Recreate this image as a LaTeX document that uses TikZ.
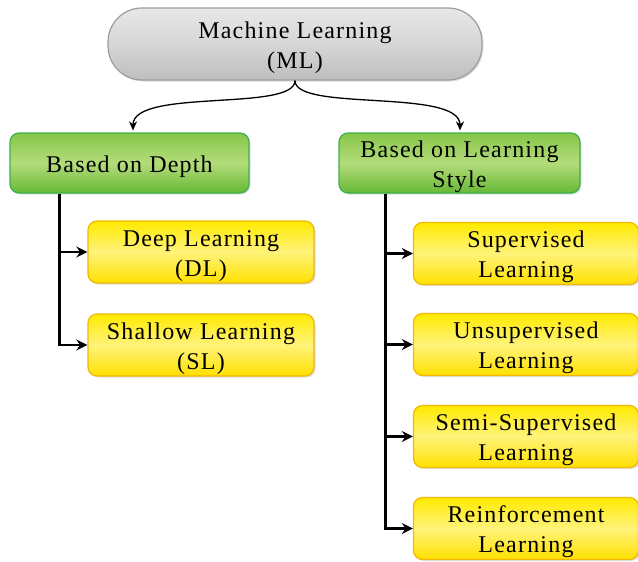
\documentclass[tikz,border=0pt]{standalone}
\usepackage{fontspec}
\setmainfont[LetterSpace=5]{Liberation Serif}
\usetikzlibrary{shadows,arrows.meta}
\newcommand\tstrut{\rule{0pt}{24pt}}
\definecolor{grayT}{HTML}{E8E8E8}
\definecolor{grayM}{HTML}{D6D6D6}
\definecolor{grayB}{HTML}{BEBEBE}
\definecolor{grayD}{HTML}{9C9C9C}
\definecolor{grnT}{HTML}{86C64A}
\definecolor{grnM}{HTML}{B4DC7A}
\definecolor{grnB}{HTML}{66B836}
\definecolor{grnD}{HTML}{3CB04A}
\definecolor{ylwT}{HTML}{FFEA00}
\definecolor{ylwM}{HTML}{FFF37A}
\definecolor{ylwB}{HTML}{FFE000}
\definecolor{ylwD}{HTML}{F2B705}
\tikzset{
  box/.style={rectangle, align=center, inner sep=0pt, line width=1.2pt,
    font=\fontsize{24}{30}\selectfont,
    drop shadow={opacity=0.25, shadow xshift=1.5pt, shadow yshift=-1.5pt}},
  mlbox/.style={box, draw=grayD, top color=grayT, bottom color=grayB, middle color=grayM,
    minimum width=374pt, minimum height=72pt, rounded corners=34pt},
  grnbox/.style={box, draw=grnD, top color=grnT, bottom color=grnB, middle color=grnM,
    minimum height=60pt, rounded corners=9pt},
  ylwbox/.style={box, draw=ylwD, top color=ylwT, bottom color=ylwB, middle color=ylwM,
    minimum width=225pt, minimum height=62pt, rounded corners=9pt},
  curv/.style={line width=1.3pt, -{Stealth[length=9pt,width=8pt]}},
  conn/.style={line width=2.2pt, -{Stealth[length=11pt,width=11pt]}}
}
\begin{document}
\begin{tikzpicture}[x=1pt,y=-1pt]
\useasboundingbox (0,0) rectangle (638,562);
\node[mlbox] (ml) at (295,44) {\tstrut Machine Learning\\(ML)};
\node[grnbox, minimum width=239pt] (bd) at (129.5,163) {\tstrut Based on Depth};
\node[grnbox, minimum width=241pt] (bls) at (459.5,163) {\tstrut Based on Learning\\Style};
\node[ylwbox, minimum width=226pt] (dl) at (201,252) {\tstrut Deep Learning\\(DL)};
\node[ylwbox, minimum width=226pt] (sl) at (201,345) {\tstrut Shallow Learning\\(SL)};
\node[ylwbox] (sup) at (526,253.5) {\tstrut Supervised\\Learning};
\node[ylwbox] (uns) at (526,344.5) {\tstrut Unsupervised\\Learning};
\node[ylwbox] (semi) at (526,436.5) {\tstrut Semi-Supervised\\Learning};
\node[ylwbox] (rein) at (526,528.5) {\tstrut Reinforcement\\Learning};
\draw[curv] (ml.south) .. controls (295,112) and (133,88) .. ([xshift=3.5pt,yshift=2pt]bd.north);
\draw[curv] (ml.south) .. controls (295,112) and (460,88) .. ([xshift=0.5pt,yshift=2pt]bls.north);
\draw[conn] ([xshift=50pt]bd.south west) |- (dl.west);
\draw[conn] ([xshift=50pt]bd.south west) |- (sl.west);
\draw[conn] ([xshift=47pt]bls.south west) |- (sup.west);
\draw[conn] ([xshift=47pt]bls.south west) |- (uns.west);
\draw[conn] ([xshift=47pt]bls.south west) |- (semi.west);
\draw[conn] ([xshift=47pt]bls.south west) |- (rein.west);
\end{tikzpicture}
\end{document}
